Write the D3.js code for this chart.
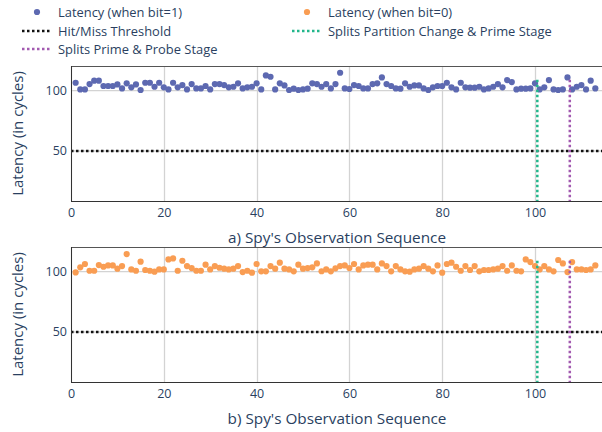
<!DOCTYPE html>
<html>
<head>
<meta charset="utf-8">
<script src="https://cdn.jsdelivr.net/npm/d3@7"></script>
<style>
  body { margin: 0; background: #fff; }
  svg { display: block; font-family: "Open Sans", sans-serif; }
</style>
</head>
<body>
<svg id="chart" width="602" height="432"></svg>
<script>
// latency readings, index 1..113
var bit1Latency = [
  106.6, 101.1, 101.1, 105.5, 108.3, 108.3, 103.9, 103.9, 103.9, 105.2,
  101.9, 106.1, 102.8, 105.2, 100.6, 106.6, 106.6, 103.3, 106.6, 102.8,
  101.1, 106.6, 102.8, 104.7, 101.1, 105.5, 101.9, 101.9, 103.9, 101.1,
  105.5, 105.5, 104.7, 102.8, 103.3, 106.1, 101.9, 102.8, 103.3, 106.1,
  101.1, 112.7, 111.6, 101.1, 106.1, 104.4, 100.6, 101.7, 100.6, 101.1,
  101.7, 106.1, 105.5, 103.3, 105.5, 101.9, 105.5, 114.9, 101.9, 101.4,
  104.7, 103.9, 101.9, 101.9, 105.5, 106.1, 111.0, 105.5, 103.9, 101.9,
  101.7, 106.1, 103.3, 104.4, 104.4, 101.9, 100.6, 102.8, 103.9, 103.9,
  106.6, 102.8, 101.1, 106.6, 102.8, 102.5, 102.5, 103.3, 101.1, 101.9,
  103.3, 105.5, 102.8, 108.8, 107.2, 101.1, 101.7, 101.7, 101.9, 106.1,
  101.1, 102.8, 108.8, 101.1, 100.6, 101.1, 111.0, 101.1, 103.3, 104.7,
  101.1, 108.3, 101.9
];
var bit0Latency = [
  99.4, 103.6, 106.4, 100.8, 100.8, 105.5, 104.1, 105.2, 105.2, 102.5,
  104.7, 114.6, 101.9, 100.8, 108.3, 101.4, 100.8, 100.0, 101.9, 101.9,
  110.2, 111.0, 100.8, 109.1, 104.7, 103.0, 100.8, 100.8, 105.8, 101.9,
  104.7, 103.3, 102.5, 101.9, 102.5, 104.7, 99.7, 100.8, 99.2, 106.4,
  100.3, 100.3, 104.7, 102.5, 107.5, 102.5, 101.9, 100.3, 105.8, 102.5,
  103.0, 103.6, 106.9, 100.4, 101.9, 100.3, 102.8, 104.7, 105.2, 103.0,
  106.4, 101.9, 105.2, 105.8, 105.8, 101.9, 106.9, 104.7, 100.3, 104.7,
  101.9, 100.3, 100.0, 101.9, 102.5, 104.7, 102.5, 100.3, 105.2, 99.2,
  106.4, 107.5, 104.1, 100.8, 104.7, 101.4, 104.7, 100.3, 101.4, 101.4,
  101.9, 102.5, 104.7, 100.8, 105.2, 100.8, 100.3, 110.2, 108.0, 104.7,
  101.9, 104.7, 101.9, 100.3, 109.7, 106.9, 99.7, 108.0, 101.9, 101.9,
  101.4, 101.9, 105.2
];
var hitMissThreshold = 50;
var partitionSplit = 100.5;
var probeSplit = 107.5;
var splitTop = 109;
var xTicks = [0, 20, 40, 60, 80, 100];
var yTicks = [50, 100];
var panelTitles = ["a) Spy's Observation Sequence", "b) Spy's Observation Sequence"];

var colors = {
  bit1: "#5d69b1",
  bit0: "#f99d53",
  threshold: "#111111",
  partition: "#22b68b",
  probe: "#a25ab0",
  text: "#2a3f5f",
  grid: "#d3d3d3"
};

var svg = d3.select("#chart");

var x = d3.scaleLinear().domain([0, 116]).range([71, 71 + 116 * 4.64]);

function drawPanel(top, values, color, title, idx) {
  var bottom = top + 135;
  var y = d3.scaleLinear().domain([8.5, 120.5]).range([bottom, top]);
  var g = svg.append("g");
  var clipId = "clip" + idx;
  g.append("clipPath").attr("id", clipId)
    .append("rect")
    .attr("x", x(0)).attr("y", top)
    .attr("width", x(116) - x(0)).attr("height", bottom - top);

  // grid
  g.append("g").selectAll("line").data(xTicks).enter().append("line")
    .attr("x1", d => Math.round(x(d)) + 0.5).attr("x2", d => Math.round(x(d)) + 0.5)
    .attr("y1", top).attr("y2", bottom)
    .attr("stroke", colors.grid).attr("stroke-width", 1.3);
  g.append("g").selectAll("line").data(yTicks).enter().append("line")
    .attr("x1", x(0)).attr("x2", x(116))
    .attr("y1", d => y(d)).attr("y2", d => y(d))
    .attr("stroke", colors.grid).attr("stroke-width", 1.3);

  var plot = g.append("g").attr("clip-path", "url(#" + clipId + ")");

  plot.selectAll("circle").data(values).enter().append("circle")
    .attr("cx", (d, i) => x(i + 1))
    .attr("cy", d => y(d))
    .attr("r", 3.1)
    .attr("fill", color);

  plot.append("line")
    .attr("x1", x(0)).attr("x2", x(116))
    .attr("y1", y(hitMissThreshold)).attr("y2", y(hitMissThreshold))
    .attr("stroke", colors.threshold).attr("stroke-width", 2.5)
    .attr("stroke-dasharray", "2.5,2.5");

  [[partitionSplit, colors.partition], [probeSplit, colors.probe]].forEach(function (s) {
    plot.append("line")
      .attr("x1", x(s[0])).attr("x2", x(s[0]))
      .attr("y1", y(splitTop)).attr("y2", y(0))
      .attr("stroke", s[1]).attr("stroke-width", 2.5)
      .attr("stroke-dasharray", "2.5,2.5");
  });

  // frame
  g.append("line").attr("x1", x(0)).attr("x2", 602).attr("y1", top + 0.5).attr("y2", top + 0.5)
    .attr("stroke", "#555").attr("stroke-width", 1);
  g.append("line").attr("x1", x(0)).attr("x2", 602).attr("y1", bottom + 0.5).attr("y2", bottom + 0.5)
    .attr("stroke", "#333").attr("stroke-width", 1);
  g.append("line").attr("x1", x(0) + 0.5).attr("x2", x(0) + 0.5).attr("y1", top).attr("y2", bottom + 1)
    .attr("stroke", "#333").attr("stroke-width", 1);

  // axes
  var xAxis = d3.axisBottom(x).tickValues(xTicks).tickSize(0).tickPadding(7);
  var xg = g.append("g").attr("transform", "translate(0," + bottom + ")").call(xAxis);
  xg.select(".domain").remove();
  xg.selectAll("text").attr("fill", colors.text).style("font-size", "12.5px")
    .style("font-family", "'Open Sans', sans-serif");

  var yAxis = d3.axisLeft(y).tickValues(yTicks).tickSize(0).tickPadding(4);
  var yg = g.append("g").attr("transform", "translate(" + x(0) + ",0)").call(yAxis);
  yg.select(".domain").remove();
  yg.selectAll("text").attr("fill", colors.text).style("font-size", "12.5px")
    .style("font-family", "'Open Sans', sans-serif");

  g.append("text")
    .attr("x", 337).attr("y", bottom + 42)
    .attr("text-anchor", "middle")
    .attr("fill", colors.text).style("font-size", "15.3px")
    .text(title);

  g.append("text")
    .attr("transform", "translate(23," + (top + bottom) / 2 + ") rotate(-90)")
    .attr("text-anchor", "middle")
    .attr("fill", colors.text).style("font-size", "15px")
    .text("Latency (in cycles)");
}

drawPanel(66, bit1Latency, colors.bit1, panelTitles[0], 0);
drawPanel(247, bit0Latency, colors.bit0, panelTitles[1], 1);

// legend
var legendItems = [
  { label: "Latency (when bit=1)", type: "dot", color: colors.bit1, x: 22, y: 12 },
  { label: "Latency (when bit=0)", type: "dot", color: colors.bit0, x: 292, y: 12 },
  { label: "Hit/Miss Threshold", type: "line", color: colors.threshold, x: 22, y: 31 },
  { label: "Splits Partition Change & Prime Stage", type: "line", color: colors.partition, x: 292, y: 31 },
  { label: "Splits Prime & Probe Stage", type: "line", color: colors.probe, x: 22, y: 49 }
];
var lg = svg.append("g");
legendItems.forEach(function (d) {
  var item = lg.append("g").attr("transform", "translate(" + d.x + "," + d.y + ")");
  if (d.type === "dot") {
    item.append("circle").attr("cx", 15).attr("cy", 0).attr("r", 3.1).attr("fill", d.color);
  } else {
    item.append("line").attr("x1", 0).attr("x2", 29).attr("y1", 0).attr("y2", 0)
      .attr("stroke", d.color).attr("stroke-width", 2.5).attr("stroke-dasharray", "2.5,2.5");
  }
  item.append("text").attr("x", 36).attr("y", 4.5)
    .attr("fill", colors.text).style("font-size", "12.9px")
    .text(d.label);
});
</script>
</body>
</html>
